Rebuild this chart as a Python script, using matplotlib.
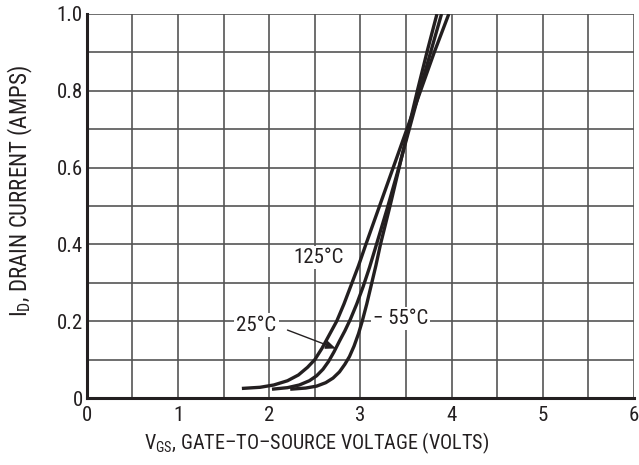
import numpy as np
import matplotlib
matplotlib.use("Agg")
import matplotlib.pyplot as plt
from matplotlib import font_manager

# transfer characteristics
vgs_125 = [1.70, 1.90, 2.05, 2.20, 2.32, 2.42, 2.50, 2.58, 2.66, 2.74, 2.82, 2.90,
           2.98, 3.06, 3.21, 3.36, 3.51, 3.66, 3.81, 3.97]
id_125 = [0.025, 0.028, 0.034, 0.045, 0.060, 0.080, 0.100, 0.130, 0.165, 0.200, 0.245, 0.295,
          0.345, 0.400, 0.500, 0.600, 0.700, 0.800, 0.900, 1.000]

vgs_25 = [2.03, 2.20, 2.33, 2.44, 2.52, 2.59, 2.65, 2.71, 2.77, 2.83, 2.89, 2.96,
          3.03, 3.10, 3.17, 3.29, 3.41, 3.53, 3.65, 3.77, 3.89]
id_25 = [0.023, 0.027, 0.034, 0.045, 0.058, 0.075, 0.095, 0.120, 0.148, 0.175, 0.205, 0.245,
         0.290, 0.340, 0.395, 0.490, 0.590, 0.695, 0.800, 0.900, 1.000]

vgs_m55 = [2.23, 2.40, 2.52, 2.62, 2.70, 2.77, 2.83, 2.88, 2.93, 2.98, 3.02, 3.07,
           3.12, 3.17, 3.22, 3.33, 3.43, 3.53, 3.63, 3.735, 3.84]
id_m55 = [0.023, 0.026, 0.031, 0.040, 0.052, 0.068, 0.088, 0.108, 0.135, 0.168, 0.200, 0.245,
          0.295, 0.345, 0.400, 0.505, 0.605, 0.705, 0.805, 0.905, 1.000]

x_ticks = [0, 1, 2, 3, 4, 5, 6]
y_ticks = [0, 0.2, 0.4, 0.6, 0.8, 1.0]
y_ticklabels = ["0", "0.2", "0.4", "0.6", "0.8", "1.0"]

# the datasheet uses a condensed grotesque; take a narrow face if one exists
names = {f.name for f in font_manager.fontManager.ttflist}
font = "Liberation Sans"
size = 13
for cand in ["Liberation Sans Narrow", "Roboto Condensed", "DejaVu Sans Condensed",
             "Open Sans Condensed", "Noto Sans Condensed"]:
    if cand in names:
        font = cand
        size = 15
        break

plt.rcParams["font.family"] = [font, "DejaVu Sans"]
plt.rcParams["mathtext.fontset"] = "custom"
plt.rcParams["mathtext.rm"] = font

ink = "#231f20"

fig = plt.figure(figsize=(6.39, 4.65), dpi=100)
ax = fig.add_axes([0.136, 0.144, 0.856, 0.826])

ax.set_xlim(0, 6)
ax.set_ylim(0, 1.0)
ax.set_xticks(x_ticks)
ax.set_yticks(y_ticks)
ax.set_yticklabels(y_ticklabels)
ax.set_xticks(np.arange(0, 6.01, 0.5), minor=True)
ax.set_yticks(np.arange(0, 1.001, 0.1), minor=True)
ax.tick_params(which="both", length=0, labelsize=size, colors=ink)
ax.tick_params(axis="x", pad=6)
ax.tick_params(axis="y", pad=3)
ax.grid(which="both", color="#555555", linewidth=1.2)

for s in ["top", "right"]:
    ax.spines[s].set_visible(False)
for s in ["left", "bottom"]:
    ax.spines[s].set_linewidth(2.2)
    ax.spines[s].set_color(ink)
    ax.spines[s].set_zorder(5)

for v, i in [(vgs_125, id_125), (vgs_25, id_25), (vgs_m55, id_m55)]:
    ax.plot(v, i, color=ink, linewidth=2.4, solid_capstyle="butt",
            solid_joinstyle="round", zorder=4)

box = dict(facecolor="white", edgecolor="none", pad=1.5)
ax.text(2.54, 0.365, "125°C", fontsize=size, color=ink, ha="center", va="center", bbox=box, zorder=3)
ax.text(1.86, 0.19, "25°C", fontsize=size, color=ink, ha="center", va="center", bbox=box, zorder=3)
ax.text(3.44, 0.208, "\u2212 55°C", fontsize=size, color=ink, ha="center", va="center", bbox=box, zorder=3)

ax.annotate("", xy=(2.73, 0.129), xytext=(2.20, 0.177),
            arrowprops=dict(arrowstyle="-|>,head_length=0.6,head_width=0.25",
                            color=ink, lw=1.0, shrinkA=0, shrinkB=0), zorder=4)

ax.set_xlabel(r"$\mathregular{V_{GS}}$, GATE" + "\u2013TO\u2013" + "SOURCE VOLTAGE (VOLTS)",
              fontsize=size - 0.5, color=ink)
ax.set_ylabel(r"$\mathregular{I_D}$, DRAIN CURRENT (AMPS)", fontsize=size + 1.5, color=ink)
ax.xaxis.set_label_coords(0.42, -0.085)
ax.yaxis.set_label_coords(-0.094, 0.54)

fig.savefig("out.png", dpi=100)
